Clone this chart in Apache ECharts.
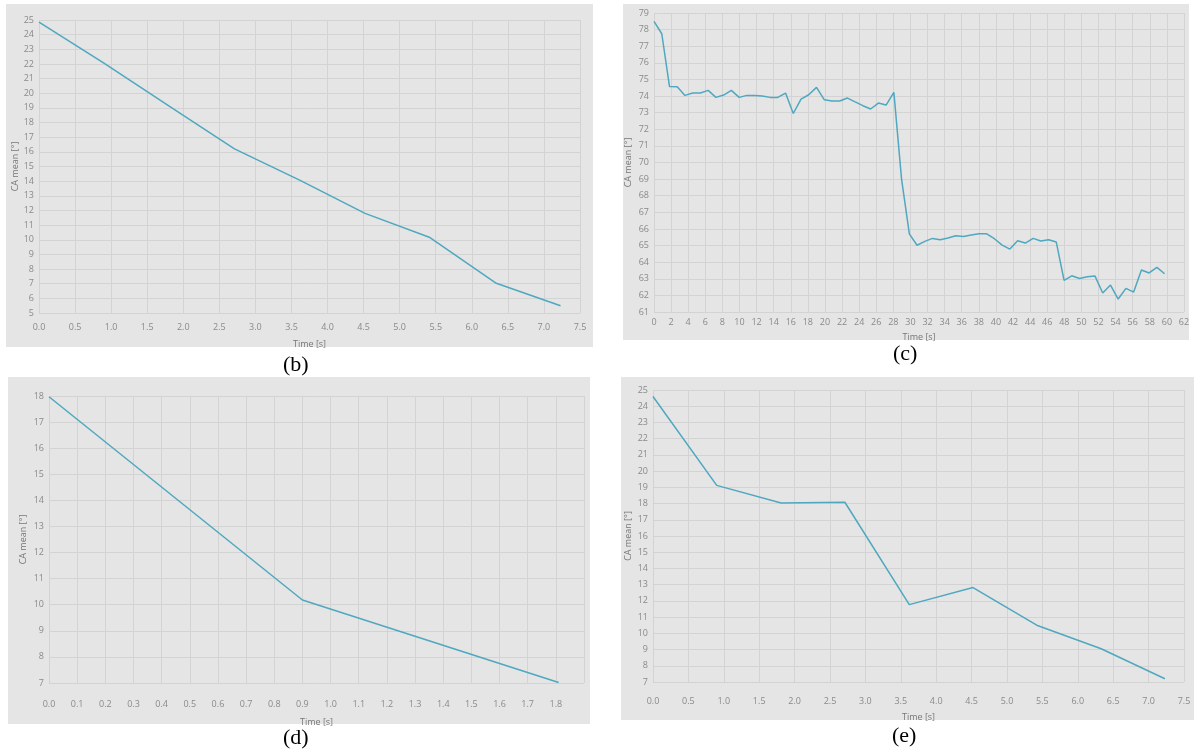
<!DOCTYPE html>
<html>
<head>
<meta charset="utf-8">
<script src="https://cdn.jsdelivr.net/npm/echarts@6/dist/echarts.min.js"></script>
<style>
  html, body { margin: 0; padding: 0; background: #fff; }
  #main { width: 1194px; height: 756px; }
</style>
</head>
<body>
<div id="main"></div>
<script>
// (b)
var timeB = [0, 0.9, 1.81, 2.71, 3.62, 4.52, 5.42, 6.33, 7.23];
var caB = [24.85, 22.05, 19.1, 16.2, 14.05, 11.8, 10.15, 7.05, 5.5];

// (c)
var timeC = [
  0, 0.91, 1.81, 2.72, 3.62, 4.53, 5.43, 6.34, 7.24, 8.15, 9.05, 9.96, 10.86,
  11.77, 12.67, 13.58, 14.48, 15.39, 16.29, 17.2, 18.1, 19.01, 19.91, 20.82,
  21.72, 22.63, 23.53, 24.44, 25.34, 26.25, 27.15, 28.06, 28.96, 29.87, 30.77,
  31.68, 32.58, 33.49, 34.39, 35.3, 36.2, 37.11, 38.01, 38.92, 39.82, 40.73,
  41.63, 42.54, 43.44, 44.35, 45.25, 46.16, 47.06, 47.97, 48.87, 49.78, 50.68,
  51.59, 52.49, 53.4, 54.3, 55.21, 56.11, 57.02, 57.92, 58.83, 59.73
];
var caC = [
  78.5, 77.75, 74.58, 74.56, 74.04, 74.18, 74.18, 74.34, 73.92, 74.06, 74.34,
  73.92, 74.04, 74.04, 74.0, 73.92, 73.92, 74.18, 72.95, 73.82, 74.08, 74.52,
  73.78, 73.7, 73.7, 73.88, 73.65, 73.42, 73.22, 73.58, 73.46, 74.22, 69.0,
  65.7, 65.02, 65.25, 65.43, 65.35, 65.45, 65.59, 65.55, 65.63, 65.71, 65.71,
  65.41, 65.03, 64.79, 65.29, 65.15, 65.43, 65.27, 65.35, 65.21, 62.9, 63.18,
  63.02, 63.12, 63.16, 62.14, 62.62, 61.78, 62.42, 62.2, 63.53, 63.35, 63.69,
  63.3
];

// (d)
var timeD = [0, 0.9, 1.81];
var caD = [17.97, 10.18, 7.02];

// (e)
var timeE = [0, 0.9, 1.81, 2.71, 3.62, 4.52, 5.42, 6.33, 7.23];
var caE = [24.6, 19.12, 18.04, 18.08, 11.77, 12.82, 10.5, 9.05, 7.2];

var captions = ["(b)", "(c)", "(d)", "(e)"];

var lineColor = "#4fa8bf";
var panelColor = "#e5e5e5";
var gridColor = "#d3d3d3";
var labelColor = "#8a8a8a";
var fontName = "Open Sans";

function pairs(xs, ys) {
  return xs.map(function (x, i) { return [x, ys[i]]; });
}

function xAxisOf(idx, min, max, step, digits, margin, gap, hideAbove) {
  return {
    type: "value",
    gridIndex: idx,
    min: min,
    max: max,
    interval: step,
    name: "Time [s]",
    nameLocation: "middle",
    nameGap: gap,
    nameTextStyle: { color: "#777", fontSize: 9, fontFamily: fontName },
    axisLine: { show: false },
    axisTick: { show: false },
    axisLabel: {
      color: labelColor,
      fontSize: 9,
      fontFamily: fontName,
      margin: margin,
      formatter: function (v) {
        if (hideAbove != null && v > hideAbove) return "";
        return v.toFixed(digits);
      }
    },
    splitLine: { show: true, lineStyle: { color: gridColor, width: 1 } }
  };
}

function yAxisOf(idx, min, max, gap) {
  return {
    type: "value",
    gridIndex: idx,
    min: min,
    max: max,
    interval: 1,
    name: "CA mean [°]",
    nameLocation: "middle",
    nameGap: gap,
    nameRotate: 90,
    nameTextStyle: { color: "#777", fontSize: 9, fontFamily: fontName },
    axisLine: { show: false },
    axisTick: { show: false },
    axisLabel: { color: labelColor, fontSize: 9, fontFamily: fontName, margin: 5 },
    splitLine: { show: true, lineStyle: { color: gridColor, width: 1 } }
  };
}

function lineOf(idx, data) {
  return {
    type: "line",
    xAxisIndex: idx,
    yAxisIndex: idx,
    data: data,
    showSymbol: false,
    symbol: "none",
    animation: false,
    lineStyle: { color: lineColor, width: 1.5 },
    z: 5
  };
}

var option = {
  animation: false,
  backgroundColor: "#ffffff",
  graphic: [
    { type: "rect", z: -10, silent: true, shape: { x: 6, y: 4, width: 587, height: 343 }, style: { fill: panelColor } },
    { type: "rect", z: -10, silent: true, shape: { x: 623, y: 4, width: 566, height: 336 }, style: { fill: panelColor } },
    { type: "rect", z: -10, silent: true, shape: { x: 8, y: 377, width: 582, height: 347 }, style: { fill: panelColor } },
    { type: "rect", z: -10, silent: true, shape: { x: 621, y: 377, width: 573, height: 343 }, style: { fill: panelColor } },
    { type: "text", left: 283, top: 354, style: { text: captions[0], font: "22px 'Liberation Serif'", fill: "#000" } },
    { type: "text", left: 893, top: 343, style: { text: captions[1], font: "22px 'Liberation Serif'", fill: "#000" } },
    { type: "text", left: 283, top: 727, style: { text: captions[2], font: "22px 'Liberation Serif'", fill: "#000" } },
    { type: "text", left: 892, top: 725, style: { text: captions[3], font: "22px 'Liberation Serif'", fill: "#000" } }
  ],
  grid: [
    { left: 39, top: 20, width: 541, height: 293 },
    { left: 654, top: 13, width: 530, height: 299 },
    { left: 49, top: 396, width: 535, height: 287 },
    { left: 653, top: 390, width: 531, height: 292 }
  ],
  xAxis: [
    xAxisOf(0, 0, 7.5, 0.5, 1, 10, 27),
    xAxisOf(1, 0, 62, 2, 0, 6, 21),
    xAxisOf(2, 0, 1.9, 0.1, 1, 17, 35, 1.85),
    xAxisOf(3, 0, 7.5, 0.5, 1, 15, 31)
  ],
  yAxis: [
    yAxisOf(0, 5, 25, 19),
    yAxisOf(1, 61, 79, 21),
    yAxisOf(2, 7, 18, 21),
    yAxisOf(3, 7, 25, 20)
  ],
  series: [
    lineOf(0, pairs(timeB, caB)),
    lineOf(1, pairs(timeC, caC)),
    lineOf(2, pairs(timeD, caD)),
    lineOf(3, pairs(timeE, caE))
  ]
};

var chart = echarts.init(document.getElementById("main"), null, { renderer: "canvas" });
chart.setOption(option);
</script>
</body>
</html>
